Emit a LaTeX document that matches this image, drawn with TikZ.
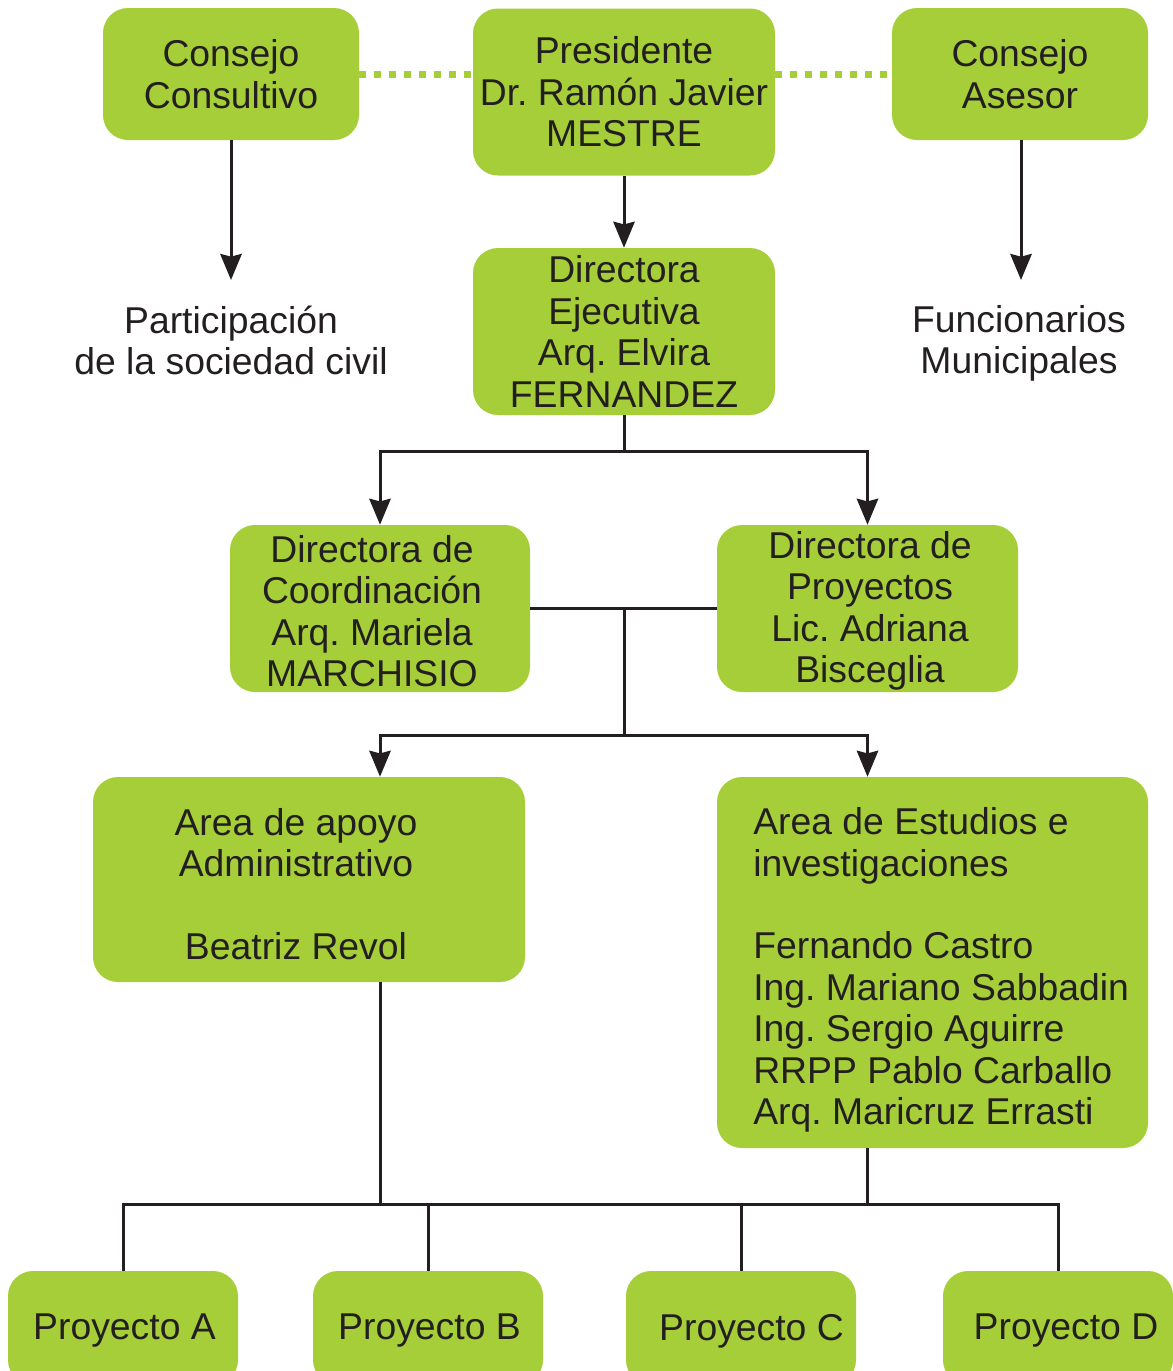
\documentclass[tikz,border=0pt]{standalone}
\usepackage{fontspec}
\setmainfont{Liberation Sans}
\usepackage{tikz}
\usetikzlibrary{arrows.meta}

\definecolor{lima}{RGB}{166,206,57}
\definecolor{tinta}{RGB}{35,31,32}

\begin{document}
\begin{tikzpicture}[x=0.75pt,y=0.75pt,yscale=-1,xscale=1,
  caja/.style={fill=lima,rounded corners=18.75pt,inner sep=0pt,align=center,text=tinta,
    font=\fontsize{28}{31.1}\selectfont\frenchspacing},
  texto/.style={inner sep=0pt,align=center,text=tinta,font=\fontsize{28}{31.1}\selectfont\frenchspacing},
  linea/.style={draw=tinta,line width=2.25pt,miter limit=10},
  flecha/.style={linea,-{Stealth[length=19.5pt,width=16pt,inset=2pt]}},
  puntos/.style={draw=lima,line width=5.25pt,dash pattern=on 5.25pt off 6pt}]
\useasboundingbox (0,0) rectangle (1172,1371);

%Shape: Rounded Rect (top row)
\node[caja,minimum width=192pt,minimum height=99pt] (cc) at (231,74) {Consejo\\Consultivo};
\node[caja,minimum width=226.5pt,minimum height=125.25pt] (pres) at (624,92) {Presidente\\Dr. Ramón Javier\\MESTRE};
\node[caja,minimum width=192pt,minimum height=99pt] (ca) at (1020,74) {Consejo\\Asesor};

%Shape: Rounded Rect (directors)
\node[caja,minimum width=226.5pt,minimum height=125.25pt] (dej) at (624,331.5) {Directora\\Ejecutiva\\Arq. Elvira\\FERNANDEZ};
\node[caja,minimum width=225pt,minimum height=125.25pt] (dco) at (380,608.5) {};
\node[caja,minimum width=225.75pt,minimum height=125.25pt] (dpr) at (867.5,608.5) {};

%Shape: Rounded Rect (areas)
\node[caja,minimum width=324pt,minimum height=153.75pt] (aadm) at (309,879.5) {};
\node[caja,minimum width=323.25pt,minimum height=278.25pt] (aest) at (932.5,962.5) {};

%Shape: Rounded Rect (projects)
\node[caja,minimum width=172.5pt,minimum height=85.5pt] (pA) at (123,1328) {};
\node[caja,minimum width=172.5pt,minimum height=85.5pt] (pB) at (428,1328) {};
\node[caja,minimum width=172.5pt,minimum height=85.5pt] (pC) at (741,1328) {};
\node[caja,minimum width=172.5pt,minimum height=85.5pt] (pD) at (1058,1328) {};

% Text Node
\node[texto] (dcoTxt) at (372,611) {Directora de\\Coordinación\\Arq. Mariela\\MARCHISIO};
\node[texto] (dprTxt) at (870,611) {Directora de\\Proyectos\\Lic. Adriana\\Bisceglia};
\node[texto] (aadmTxt) at (296,884) {Area de apoyo\\Administrativo\\[31.1pt]Beatriz Revol};
\node[texto,align=left,anchor=west] (aestTxt) at (753,970)
  {Area de Estudios e\\investigaciones\\[31.1pt]Fernando Castro\\Ing. Mariano Sabbadin\\Ing. Sergio Aguirre\\RRPP Pablo Carballo\\Arq. Maricruz Errasti};
\node[texto] (pATxt) at (124.5,1331) {Proyecto A};
\node[texto] (pBTxt) at (429.5,1331) {Proyecto B};
\node[texto] (pCTxt) at (751.5,1331) {Proyecto C};
\node[texto] (pDTxt) at (1066,1331) {Proyecto D};
\node[texto] (part) at (231,340.5) {Participación\\de la sociedad civil};
\node[texto] (func) at (1019,343.5) {Funcionarios\\Municipales};
\coordinate (partArr) at (231,280);
\coordinate (funcArr) at (1021,280);
\coordinate (bus) at (0,1204);

%Dotted Lines
\draw[puntos] (cc.east) -- (cc.east -| pres.west);
\draw[puntos] (ca.west -| pres.east) -- (ca.west);

%Arrows
\draw[flecha] (cc.south) -- (partArr);
\draw[flecha] (ca.south -| funcArr) -- (funcArr);
\draw[flecha] (pres.south) -- (dej.north);
\draw[flecha] (dej.south) -- ++(0,36) -| (dco.north);
\draw[flecha] (dej.south) -- ++(0,36) -| (dpr.north);
\draw[linea] (dco.east) -- (dpr.west);
\draw[flecha] (dej.south |- dco.east) -- ++(0,127) -| (dco.south |- aadm.north);
\draw[flecha] (dej.south |- dco.east) -- ++(0,127) -| (dpr.south |- aest.north);

%Straight Lines (projects)
\draw[linea] (dco.south |- aadm.south) -- (dco.south |- bus);
\draw[linea] (dpr.south |- aest.south) -- (dpr.south |- bus);
\draw[linea] (pA.north) -- (pA.north |- bus) -- (pD.north |- bus) -- (pD.north);
\draw[linea] (pB.north) -- (pB.north |- bus);
\draw[linea] (pC.north) -- (pC.north |- bus);

\end{tikzpicture}
\end{document}
